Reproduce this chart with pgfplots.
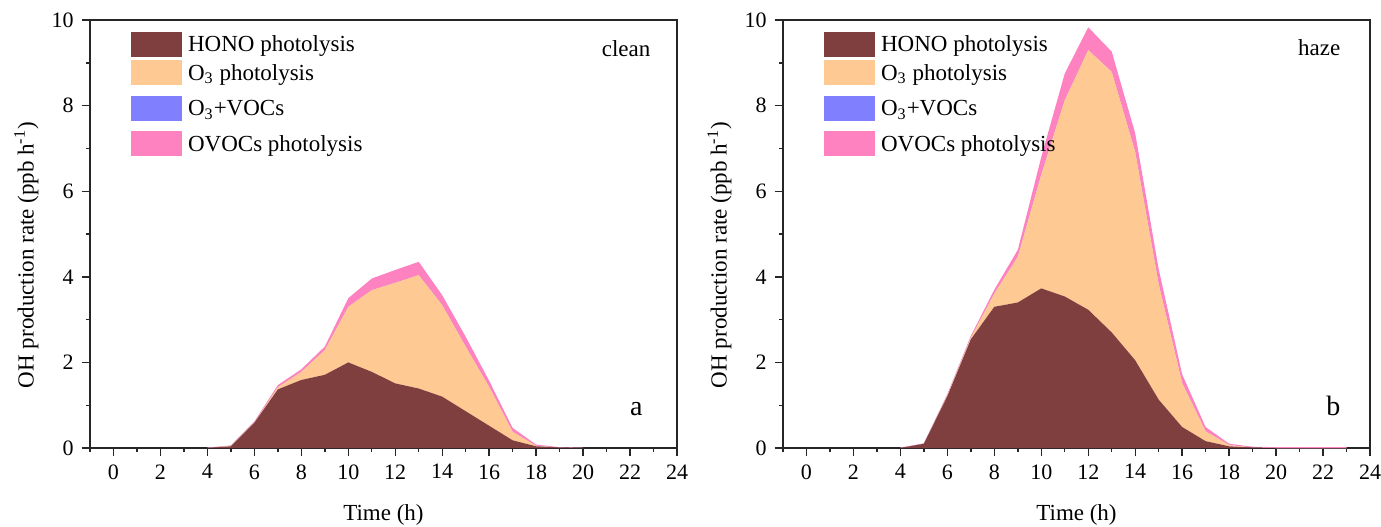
\documentclass[border=0pt]{standalone}
\usepackage{fontspec}
\setmainfont{Liberation Serif}
\usepackage{pgfplots}
\usepackage{pgfplotstable}
\pgfplotsset{compat=1.18}
\definecolor{hono}{RGB}{127,63,63}
\definecolor{othree}{RGB}{255,201,148}
\definecolor{ovoc3}{RGB}{128,128,255}
\definecolor{ovocs}{RGB}{255,130,192}

\pgfplotstableread{
h hono o3 o3voc ovoc
4 0 0 0 0.01
5 0.04 0.01 0 0.01
6 0.59 0.01 0 0.02
7 1.37 0.05 0 0.05
8 1.59 0.19 0 0.06
9 1.71 0.58 0 0.08
10 2.00 1.30 0 0.20
11 1.78 1.91 0 0.27
12 1.51 2.35 0 0.30
13 1.39 2.65 0 0.31
14 1.20 2.14 0 0.23
15 0.86 1.51 0 0.23
16 0.52 0.91 0 0.14
17 0.18 0.20 0 0.09
18 0.04 0.01 0 0.03
19 0.01 0 0 0.01
20 0 0 0 0.005
}\clean

\pgfplotstableread{
h hono o3 o3voc ovoc
4 0 0 0 0.01
5 0.10 0 0 0.01
6 1.21 0.02 0 0.03
7 2.54 0.04 0 0.04
8 3.30 0.31 0 0.09
9 3.40 1.07 0 0.16
10 3.73 2.66 0 0.41
11 3.54 4.59 0 0.62
12 3.23 6.07 0 0.53
13 2.70 6.09 0 0.47
14 2.05 4.87 0 0.43
15 1.13 2.70 0 0.35
16 0.49 1.03 0 0.20
17 0.16 0.23 0 0.10
18 0.04 0.03 0 0.03
19 0.01 0 0 0.02
20 0 0 0 0.02
21 0 0 0 0.02
22 0 0 0 0.02
23 0 0 0 0.02
}\haze

\pgfplotsset{
  ohaxis/.style={
    scale only axis, width=293.5pt, height=214pt,
    xmin=-1, xmax=24, ymin=0, ymax=10,
    xtick={0,2,...,24}, minor xtick={-1,1,...,23},
    ytick={0,2,...,10}, minor ytick={1,3,...,9},
    tick align=outside, xtick pos=bottom, ytick pos=left,
    major tick length=4.2pt, minor tick length=2.1pt,
    tick style={line width=0.7pt, black!85},
    axis line style={line width=0.75pt, black!85},
    /pgf/number format/assume math mode=true,
    ticklabel style={font=\fontsize{11}{13}\selectfont},
    xticklabel style={yshift=0pt},
    stack plots=y,
    xlabel={Time (h)},
    ylabel={OH production rate (ppb h\textsuperscript{-1})},
    xlabel style={at={(axis description cs:0.5,0)}, anchor=center, yshift=-33.5pt},
    ylabel style={at={(axis description cs:-0.1082,0.451)}, anchor=center},
    label style={font=\fontsize{11.5}{13}\selectfont},
    legend cell align=left,
    legend style={draw=none, fill=none, inner sep=0pt, outer sep=0pt,
      at={(rel axis cs:0,1)}, anchor=north west, xshift=20.35pt, yshift=-5.85pt,
      row sep=0pt, column sep=3.2pt,
      cells={anchor=base west},
      nodes={inner sep=0pt, font=\fontsize{11.5}{13}\selectfont}},
    legend image code/.code={\fill[##1] (0pt,-2.45pt) rectangle (25.5pt,10.05pt);},
  }
}

\begin{document}
\fontsize{11.5}{13}\selectfont
\begin{tikzpicture}
\useasboundingbox (-45pt,-39pt) rectangle (645.5pt,224pt);
\begin{axis}[ohaxis, at={(0pt,0pt)}]
\addplot[fill=hono, draw=none] table[x=h, y=hono] {\clean} \closedcycle;
\addplot[fill=othree, draw=none] table[x=h, y=o3] {\clean} \closedcycle;
\addplot[fill=ovoc3, draw=none] table[x=h, y=o3voc] {\clean} \closedcycle;
\addplot[fill=ovocs, draw=none] table[x=h, y=ovoc] {\clean} \closedcycle;
\addlegendentry[text height=10.1pt, text depth=4.05pt]{HONO photolysis}
\addlegendentry[text height=10.1pt, text depth=7.65pt]{O\textsubscript{3} photolysis}
\addlegendentry[text height=10.1pt, text depth=7.65pt]{O\textsubscript{3}+VOCs}
\addlegendentry[text height=10.1pt, text depth=4.05pt]{OVOCs photolysis}
\node[anchor=base east, font=\fontsize{11.5}{13}\selectfont] at (axis cs:23.21,9.14) {clean};
\node[anchor=base, font=\fontsize{14}{16}\selectfont] at (axis cs:22.27,0.75) {a};
\end{axis}
\begin{axis}[ohaxis, at={(346.5pt,0pt)}]
\addplot[fill=hono, draw=none] table[x=h, y=hono] {\haze} \closedcycle;
\addplot[fill=othree, draw=none] table[x=h, y=o3] {\haze} \closedcycle;
\addplot[fill=ovoc3, draw=none] table[x=h, y=o3voc] {\haze} \closedcycle;
\addplot[fill=ovocs, draw=none] table[x=h, y=ovoc] {\haze} \closedcycle;
\addlegendentry[text height=10.1pt, text depth=4.05pt]{HONO photolysis}
\addlegendentry[text height=10.1pt, text depth=7.65pt]{O\textsubscript{3} photolysis}
\addlegendentry[text height=10.1pt, text depth=7.65pt]{O\textsubscript{3}+VOCs}
\addlegendentry[text height=10.1pt, text depth=4.05pt]{OVOCs photolysis}
\node[anchor=base east, font=\fontsize{11.5}{13}\selectfont] at (axis cs:23.08,9.17) {haze};
\node[anchor=base, font=\fontsize{14}{16}\selectfont] at (axis cs:22.44,0.75) {b};
\end{axis}
\end{tikzpicture}
\end{document}
